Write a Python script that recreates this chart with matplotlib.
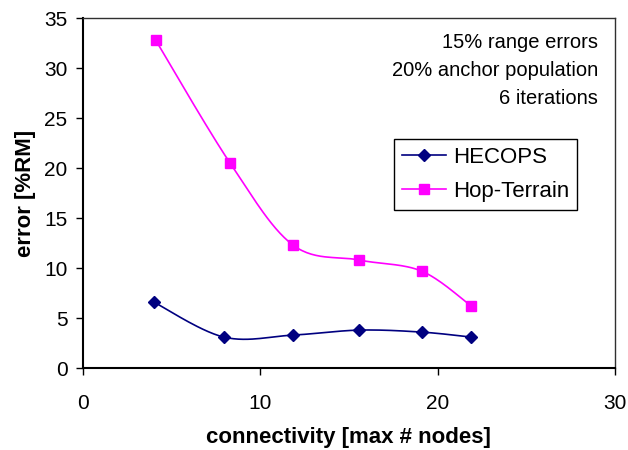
import numpy as np
import matplotlib
matplotlib.use('Agg')
import matplotlib.pyplot as plt

# Data
hecops_x = [4.0, 7.95, 11.85, 15.6, 19.1, 21.9]
hecops_y = [6.6, 3.1, 3.3, 3.8, 3.6, 3.1]
hop_x = [4.1, 8.3, 11.85, 15.6, 19.1, 21.9]
hop_y = [32.8, 20.5, 12.3, 10.8, 9.7, 6.2]

notes = ['15% range errors', '20% anchor population', '6 iterations']


def smooth(xs, ys, n=30):
    # Excel-style smoothed line: Catmull-Rom bezier through the points
    x = np.asarray(xs, float)
    y = np.asarray(ys, float)
    px = np.concatenate([[x[0]], x, [x[-1]]])
    py = np.concatenate([[y[0]], y, [y[-1]]])
    out_x, out_y = [], []
    t = np.linspace(0, 1, n)
    for i in range(1, len(px) - 2):
        p0 = np.array([px[i], py[i]])
        p3 = np.array([px[i + 1], py[i + 1]])
        p1 = p0 + (np.array([px[i + 1], py[i + 1]]) - np.array([px[i - 1], py[i - 1]])) / 6
        p2 = p3 - (np.array([px[i + 2], py[i + 2]]) - np.array([px[i], py[i]])) / 6
        b = ((1 - t) ** 3)[:, None] * p0 + (3 * (1 - t) ** 2 * t)[:, None] * p1 \
            + (3 * (1 - t) * t ** 2)[:, None] * p2 + (t ** 3)[:, None] * p3
        out_x.extend(b[:, 0])
        out_y.extend(b[:, 1])
    return out_x, out_y


plt.rcParams['font.family'] = ['Liberation Sans', 'DejaVu Sans']

fig = plt.figure(figsize=(6.28, 4.5), dpi=100)
ax = fig.add_axes([0.132, 0.182, 0.847, 0.778])

navy = '#000080'
magenta = '#FF00FF'

sx, sy = smooth(hecops_x, hecops_y)
ax.plot(sx, sy, color=navy, lw=1.2)
ax.plot(hecops_x, hecops_y, ls='none', marker='D', ms=6, color=navy)
ax.plot([], [], color=navy, lw=1.2, marker='D', ms=6, label='HECOPS')

sx, sy = smooth(hop_x, hop_y)
ax.plot(sx, sy, color=magenta, lw=1.2)
ax.plot(hop_x, hop_y, ls='none', marker='s', ms=6.5, color=magenta)
ax.plot([], [], color=magenta, lw=1.2, marker='s', ms=6.5, label='Hop-Terrain')

ax.set_xlim(0, 30)
ax.set_ylim(0, 35)
ax.set_xticks([0, 10, 20, 30])
ax.set_yticks(range(0, 36, 5))
ax.tick_params(direction='out', length=5, width=1, labelsize=15, pad=6)
ax.tick_params(axis='x', pad=14)

for s in ['left', 'bottom']:
    ax.spines[s].set_linewidth(1.5)
for s in ['top', 'right']:
    ax.spines[s].set_linewidth(1.0)
    ax.spines[s].set_color('#303030')

ax.set_xlabel('connectivity [max # nodes]', fontsize=16, fontweight='bold', labelpad=10)
ax.set_ylabel('error [%RM]', fontsize=16, fontweight='bold', labelpad=6)

ax.text(0.968, 0.958, '\n'.join(notes), transform=ax.transAxes, ha='right', va='top',
        fontsize=14.5, linespacing=1.62)

leg = ax.legend(loc='upper left', bbox_to_anchor=(0.585, 0.655), fontsize=16,
                frameon=True, fancybox=False, edgecolor='black', framealpha=1,
                handlelength=2.0, borderpad=0.35, labelspacing=0.6, handletextpad=0.3,
                borderaxespad=0)
leg.get_frame().set_linewidth(1.0)

fig.savefig('out.png', dpi=100)
